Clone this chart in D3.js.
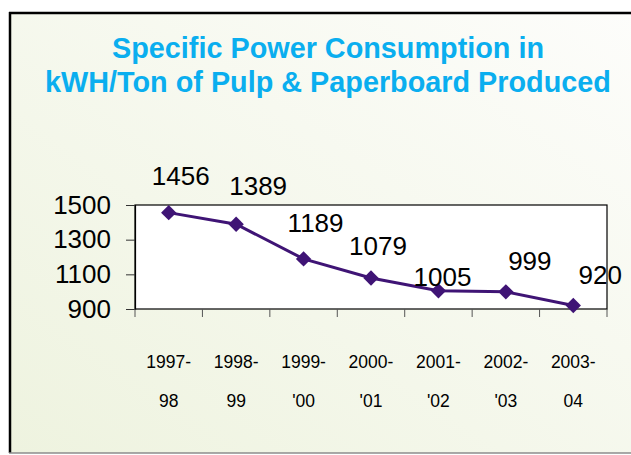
<!DOCTYPE html>
<html>
<head>
<meta charset="utf-8">
<script src="https://cdn.jsdelivr.net/npm/d3@7"></script>
<style>
  html, body { margin: 0; padding: 0; background: #fff; }
  svg { display: block; font-family: "Liberation Sans", Arial, sans-serif; }
</style>
</head>
<body>
<div id="chart"></div>
<script>
// data
var years = ["1997-98", "1998-99", "1999-'00", "2000-'01", "2001-'02", "2002-'03", "2003-04"];
var yearTop = ["1997-", "1998-", "1999-", "2000-", "2001-", "2002-", "2003-"];
var yearBottom = ["98", "99", "'00", "'01", "'02", "'03", "04"];
var power = [1456, 1389, 1189, 1079, 1005, 999, 920];
var yTicks = [900, 1100, 1300, 1500];

// label nudges (layout only), as in the original hand-placed labels
var labelDx = [12, 22, 12, 7, 4, 24, 27];
var labelDy = [-28, -29, -27, -23, -5, -22, -22];

var W = 631, H = 455;
var svg = d3.select("#chart").append("svg").attr("width", W).attr("height", H);

// background gradient
var defs = svg.append("defs");
var grad = defs.append("linearGradient").attr("id", "bg")
    .attr("x1", "0%").attr("y1", "100%").attr("x2", "100%").attr("y2", "0%");
grad.append("stop").attr("offset", "0%").attr("stop-color", "#eef3df");
grad.append("stop").attr("offset", "100%").attr("stop-color", "#fdfdfb");

svg.append("rect").attr("x", 9).attr("y", 12).attr("width", W).attr("height", 441)
    .attr("fill", "url(#bg)");
// frame: black on top/left, grey at the bottom
svg.append("line").attr("x1", 9).attr("x2", W).attr("y1", 13).attr("y2", 13)
    .attr("stroke", "#000").attr("stroke-width", 2.5);
svg.append("line").attr("x1", 10).attr("x2", 10).attr("y1", 12).attr("y2", 453)
    .attr("stroke", "#000").attr("stroke-width", 2.5);
svg.append("line").attr("x1", 9).attr("x2", W).attr("y1", 453).attr("y2", 453)
    .attr("stroke", "#8c8c8c").attr("stroke-width", 1.5);

// title
var title = svg.append("text").attr("text-anchor", "middle")
    .attr("fill", "#0aaeef").style("font-size", "28.8px").style("font-weight", "bold");
title.append("tspan").attr("x", 328).attr("y", 58).text("Specific Power Consumption in");
title.append("tspan").attr("x", 328).attr("y", 92).text("kWH/Ton of Pulp & Paperboard Produced");

// plot area
var m = {l: 135, t: 205, r: 607, b: 309};
var x = d3.scaleBand().domain(years).range([m.l, m.r]);
var y = d3.scaleLinear().domain([900, 1500]).range([m.b, m.t]);

svg.append("rect").attr("x", m.l).attr("y", m.t)
    .attr("width", m.r - m.l).attr("height", m.b - m.t)
    .attr("fill", "#fff").attr("stroke", "#000").attr("stroke-width", 1.2);

// y axis
var yAxis = svg.append("g").attr("transform", "translate(" + m.l + ",0)")
    .call(d3.axisLeft(y).tickValues(yTicks).tickSize(9).tickPadding(15).tickFormat(d3.format("d")));
yAxis.select(".domain").attr("stroke", "#000").attr("stroke-width", 1.2);
yAxis.selectAll(".tick line").attr("stroke", "#333");
yAxis.selectAll(".tick text").attr("fill", "#000").style("font-size", "26px")
    .style("font-family", "'Liberation Sans', Arial, sans-serif");

// x axis: ticks on band edges
var xEdges = years.map(function(d) { return x(d); }).concat([m.r]);
svg.append("g").selectAll("line").data(xEdges).enter().append("line")
    .attr("x1", function(d) { return d; }).attr("x2", function(d) { return d; })
    .attr("y1", m.b).attr("y2", m.b + 8)
    .attr("stroke", "#555").attr("stroke-width", 1);

var xl = svg.append("g").selectAll("text").data(years).enter().append("text")
    .attr("text-anchor", "middle").attr("fill", "#000").style("font-size", "17.5px");
xl.append("tspan")
    .attr("x", function(d) { return x(d) + x.bandwidth() / 2; }).attr("y", 368)
    .text(function(d, i) { return yearTop[i]; });
xl.append("tspan")
    .attr("x", function(d) { return x(d) + x.bandwidth() / 2; }).attr("y", 407)
    .text(function(d, i) { return yearBottom[i]; });

// line and markers
var cx = function(d, i) { return x(years[i]) + x.bandwidth() / 2; };
var line = d3.line().x(cx).y(function(d) { return y(d); });
svg.append("path").datum(power).attr("d", line)
    .attr("fill", "none").attr("stroke", "#3f1475").attr("stroke-width", 3);

svg.append("g").selectAll("path").data(power).enter().append("path")
    .attr("d", d3.symbol().type(d3.symbolDiamond2).size(150))
    .attr("transform", function(d, i) { return "translate(" + cx(d, i) + "," + y(d) + ")"; })
    .attr("fill", "#3f1475");

// data labels
svg.append("g").selectAll("text").data(power).enter().append("text")
    .attr("text-anchor", "middle").attr("fill", "#000").style("font-size", "26px")
    .attr("x", function(d, i) { return cx(d, i) + labelDx[i]; })
    .attr("y", function(d, i) { return y(d) + labelDy[i]; })
    .text(function(d) { return d; });
</script>
</body>
</html>
